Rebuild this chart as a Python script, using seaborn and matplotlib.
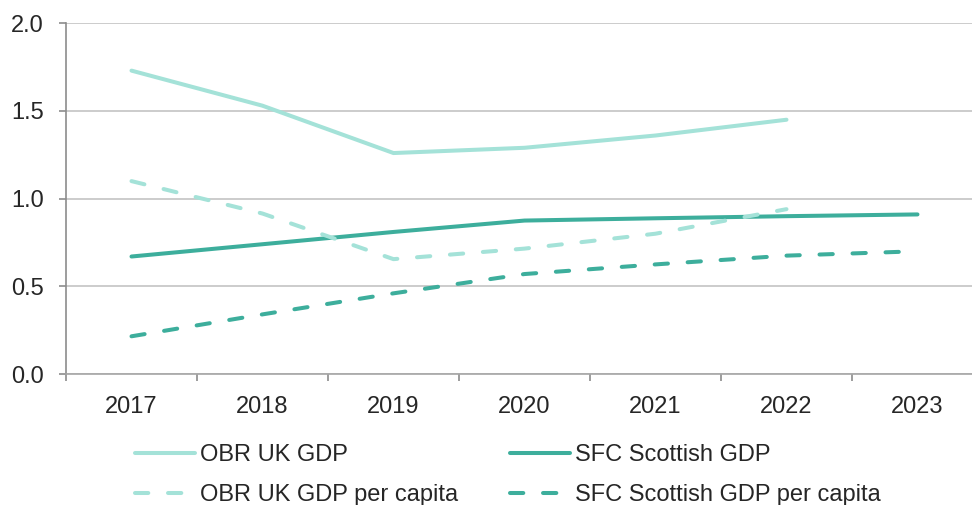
import pandas as pd
import matplotlib.pyplot as plt
from matplotlib.ticker import FixedLocator, FormatStrFormatter
import seaborn as sns

# data
years = ["2017", "2018", "2019", "2020", "2021", "2022", "2023"]
obr_uk_gdp = [1.73, 1.53, 1.26, 1.29, 1.36, 1.45, None]
sfc_scot_gdp = [0.67, 0.74, 0.81, 0.875, 0.888, 0.90, 0.91]
obr_uk_pc = [1.10, 0.915, 0.655, 0.715, 0.80, 0.94, None]
sfc_scot_pc = [0.215, 0.34, 0.46, 0.57, 0.625, 0.675, 0.70]

names = ["OBR UK GDP", "SFC Scottish GDP", "OBR UK GDP per capita", "SFC Scottish GDP per capita"]
series = [obr_uk_gdp, sfc_scot_gdp, obr_uk_pc, sfc_scot_pc]

rows = []
for name, vals in zip(names, series):
    for yr, v in zip(years, vals):
        if v is not None:
            rows.append({"year": yr, "value": v, "series": name})
df = pd.DataFrame(rows)

light = "#A4E2D8"
dark = "#3DAE9C"
palette = {names[0]: light, names[1]: dark, names[2]: light, names[3]: dark}
dash = (3.3, 4.9)
dashes = {names[0]: "", names[1]: "", names[2]: dash, names[3]: dash}

sns.set_style("white")
plt.rcParams["font.family"] = ["Liberation Sans", "DejaVu Sans"]

fs = 17
fig = plt.figure(figsize=(9.72, 5.05), dpi=100)
ax = fig.add_axes([0.0679, 0.2594, 0.9434, 0.6945])

sns.lineplot(data=df, x="year", y="value", hue="series", style="series",
             hue_order=names, style_order=names, palette=palette, dashes=dashes,
             linewidth=2.9, legend=False, ax=ax, sort=False)
for ln in ax.lines:
    ln.set_dash_capstyle("round")
    ln.set_solid_capstyle("round")

ax.set_xlim(-0.5, len(years) - 0.5)
ax.set_ylim(0, 2.0)
ax.yaxis.set_major_locator(FixedLocator([0, 0.5, 1.0, 1.5, 2.0]))
ax.yaxis.set_major_formatter(FormatStrFormatter("%.1f"))
ax.xaxis.set_minor_locator(FixedLocator([i - 0.5 for i in range(len(years) + 1)]))
ax.grid(axis="y", color="#C4C4C4", linewidth=1.2)
ax.set_axisbelow(True)
ax.set_xlabel("")
ax.set_ylabel("")

for s in ["top", "right"]:
    ax.spines[s].set_visible(False)
ax.spines["left"].set_color("#8C8C8C")
ax.spines["bottom"].set_color("#A6A6A6")
ax.spines["left"].set_linewidth(1.2)
ax.spines["bottom"].set_linewidth(1.2)

ax.tick_params(axis="y", which="major", length=5, width=1.2, color="#8C8C8C",
               labelsize=fs, pad=11, left=True)
ax.tick_params(axis="x", which="major", length=0, labelsize=fs, pad=16)
ax.tick_params(axis="x", which="minor", length=5, width=1.2, color="#8C8C8C", bottom=True)

lines = ax.lines
order = [0, 2, 1, 3]
fig.legend([lines[i] for i in order], [names[i] for i in order],
           loc="upper left", bbox_to_anchor=(0.139, 0.120), ncol=2, frameon=False,
           fontsize=fs, handlelength=2.55, handletextpad=0.2, columnspacing=2.2,
           labelspacing=0.74, borderpad=0, borderaxespad=0)

fig.savefig("out.png", dpi=100)
